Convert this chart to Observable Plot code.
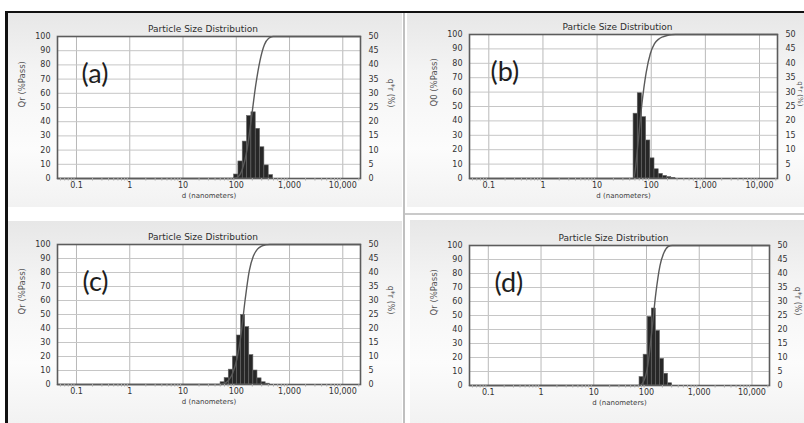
<!DOCTYPE html>
<html><head><meta charset="utf-8">
<script src="https://cdn.jsdelivr.net/npm/d3@7"></script>
<script src="https://cdn.jsdelivr.net/npm/@observablehq/plot@0.6"></script>
<style>
body{margin:0;background:#fff;}
#root{position:relative;width:804px;height:423px;overflow:hidden;background:#fff;font-family:"DejaVu Sans",sans-serif;}
.panel{position:absolute;background:linear-gradient(#e7e7e7 0%,#f4f4f4 30%,#fcfcfc 70%,#f2f2f2 100%);}
.panel svg{position:absolute;left:0;top:0;overflow:visible;}
.deco{position:absolute;}
</style></head><body><div id="root"></div>
<script>
// ---- data ----
const chartTitle = "Particle Size Distribution";
const xTitle = "d (nanometers)";
const rightTitle = "q*r (%)";
const panelLetters = ["(a)", "(b)", "(c)", "(d)"];
const leftTitles = ["Qr (%Pass)", "Q0 (%Pass)", "Qr (%Pass)", "Qr (%Pass)"];
const xTicks = [0.1, 1, 10, 100, 1000, 10000];
const xTickLabels = ["0.1", "1", "10", "100", "1,000", "10,000"];
const leftTicks = [0, 10, 20, 30, 40, 50, 60, 70, 80, 90, 100];
const rightTickLabels = ["0", "5", "10", "15", "20", "25", "30", "35", "40", "45", "50"];
const xDomain = [0.044, 21500];

// bin edges (nm) and frequency q*r (%) for each sample
const edgesA = [90.9, 109.6, 132.2, 159.4, 192.3, 231.9, 279.6, 337.2, 406.7, 490.5];
const qA = [1.4, 6, 13, 22, 23.3, 17.5, 11, 4.6, 1.2];
const edgesB = [47.2, 56.4, 67.4, 80.5, 96.2, 115, 137.4, 164.2, 196.2, 234.5, 280.2];
const qB = [22.5, 29.6, 21.3, 13.2, 7, 3.2, 1.6, 0.9, 0.5, 0.2];
const edgesC = [50.7, 60.5, 72.3, 86.3, 103, 123, 146.9, 175.4, 209.5, 250.1, 298.7, 356.6, 425.8];
const qC = [0.8, 2.3, 5.3, 10, 17.5, 24.8, 20.5, 10.5, 5, 2.2, 0.8, 0.3];
const edgesD = [73.8, 88.2, 105.4, 125.9, 150.5, 179.8, 214.9, 256.8, 306.9];
const qD = [3, 11, 24.5, 27.5, 19.5, 9.5, 4.2, 0.8];

// ---- layout ----
const root = document.getElementById("root");
function deco(l, t, w, h, c) {
  const d = document.createElement("div");
  d.className = "deco";
  Object.assign(d.style, {left: l + "px", top: t + "px", width: w + "px", height: h + "px", background: c});
  root.appendChild(d);
}

const panels = [
  {edges: edgesA, q: qA, box: {l: 8, t: 13, w: 394, h: 194}, m: {l: 49, r: 42, t: 23, b: 29}, letterDx: 24, rightDx: 30, rightFs: 8},
  {edges: edgesB, q: qB, box: {l: 407, t: 13, w: 397, h: 194}, m: {l: 62, r: 27, t: 21, b: 29}, letterDx: 21, rightDx: 23, rightFs: 7},
  {edges: edgesC, q: qC, box: {l: 8, t: 221, w: 394, h: 202}, m: {l: 49, r: 42, t: 23, b: 39}, letterDx: 25, rightDx: 30, rightFs: 8},
  {edges: edgesD, q: qD, box: {l: 410, t: 220, w: 394, h: 203}, m: {l: 59, r: 35, t: 25, b: 38}, letterDx: 25, rightDx: 28, rightFs: 8}
];

const minorTicks = [];
for (let e = -2; e <= 4; e++) for (let k = 2; k <= 9; k++) {
  const v = k * Math.pow(10, e);
  if (v > xDomain[0] && v < xDomain[1]) minorTicks.push(v);
}

panels.forEach((p, i) => {
  const bars = p.q.map((v, j) => ({x1: p.edges[j], x2: p.edges[j + 1], q: v}));
  const cum = d3.cumsum(p.q);
  const curve = [{x: xDomain[0], Q: 0}, {x: p.edges[0], Q: 0}]
    .concat(p.edges.slice(1).map((e, j) => ({x: e, Q: Math.min(100, cum[j])})))
    .concat([{x: xDomain[1], Q: 100}]);

  const svg = Plot.plot({
    width: p.box.w, height: p.box.h,
    marginLeft: p.m.l, marginRight: p.m.r, marginTop: p.m.t, marginBottom: p.m.b,
    style: {background: "transparent", fontFamily: "DejaVu Sans", fontSize: "8px", color: "#3c3c3c"},
    x: {type: "log", domain: xDomain},
    y: {domain: [0, 100]},
    marks: [
      Plot.frame({fill: "white", stroke: "none"}),
      Plot.gridX(xTicks, {stroke: "#b9b9b9", strokeOpacity: 1}),
      Plot.gridY(leftTicks, {stroke: "#c6c6c6", strokeOpacity: 1}),
      Plot.rectY(bars, {x1: "x1", x2: "x2", y1: 0, y2: d => d.q * 2, fill: "#272727", stroke: "#666", strokeWidth: 0.6}),
      Plot.line(curve, {x: "x", y: "Q", curve: "monotone-x", stroke: "#5a5a5a", strokeWidth: 1.4}),
      Plot.frame({stroke: "#5c5c5c", strokeWidth: 1.6}),
      Plot.axisX(minorTicks, {tickSize: 2.5, tickFormat: () => "", stroke: "#aaa", label: null}),
      Plot.axisX(xTicks, {tickSize: 0, tickPadding: 4, tickFormat: d => xTickLabels[xTicks.indexOf(d)], label: null, fill: "#333"}),
      Plot.axisY(leftTicks, {anchor: "left", tickSize: 0, tickPadding: 7, label: null, fill: "#333"}),
      Plot.axisY(leftTicks, {anchor: "right", tickSize: 0, tickPadding: 8, tickFormat: d => rightTickLabels[leftTicks.indexOf(d)], label: null, fill: "#333"}),
      Plot.text([chartTitle], {text: d => d, frameAnchor: "top", dx: -6, dy: -10.5, fontSize: 9, fill: "#2e2e2e"}),
      Plot.text([xTitle], {text: d => d, frameAnchor: "bottom", dy: 19, fontSize: 7, fill: "#3c3c3c"}),
      Plot.text([leftTitles[i]], {text: d => d, frameAnchor: "left", dx: -35, rotate: -90, fontSize: 8.5, fill: "#555"}),
      Plot.text([rightTitle], {text: d => d, frameAnchor: "right", dx: p.rightDx, rotate: 90, fontSize: p.rightFs, fill: "#555"}),
      Plot.text([panelLetters[i]], {text: d => d, frameAnchor: "top-left", textAnchor: "start", dx: p.letterDx, dy: 27, fontSize: 27, fontFamily: "Lato", fill: "#1e1e1e"})
    ]
  });
  const div = document.createElement("div");
  div.className = "panel";
  Object.assign(div.style, {left: p.box.l + "px", top: p.box.t + "px", width: p.box.w + "px", height: p.box.h + "px"});
  div.appendChild(svg);
  root.appendChild(div);
});

// frame decorations of the figure
deco(5, 11, 799, 2, "#111");
deco(5, 11, 3, 412, "#111");
deco(403, 13, 2, 410, "#c0c0c0");
deco(405, 213, 399, 2, "#cacaca");
</script></body></html>
